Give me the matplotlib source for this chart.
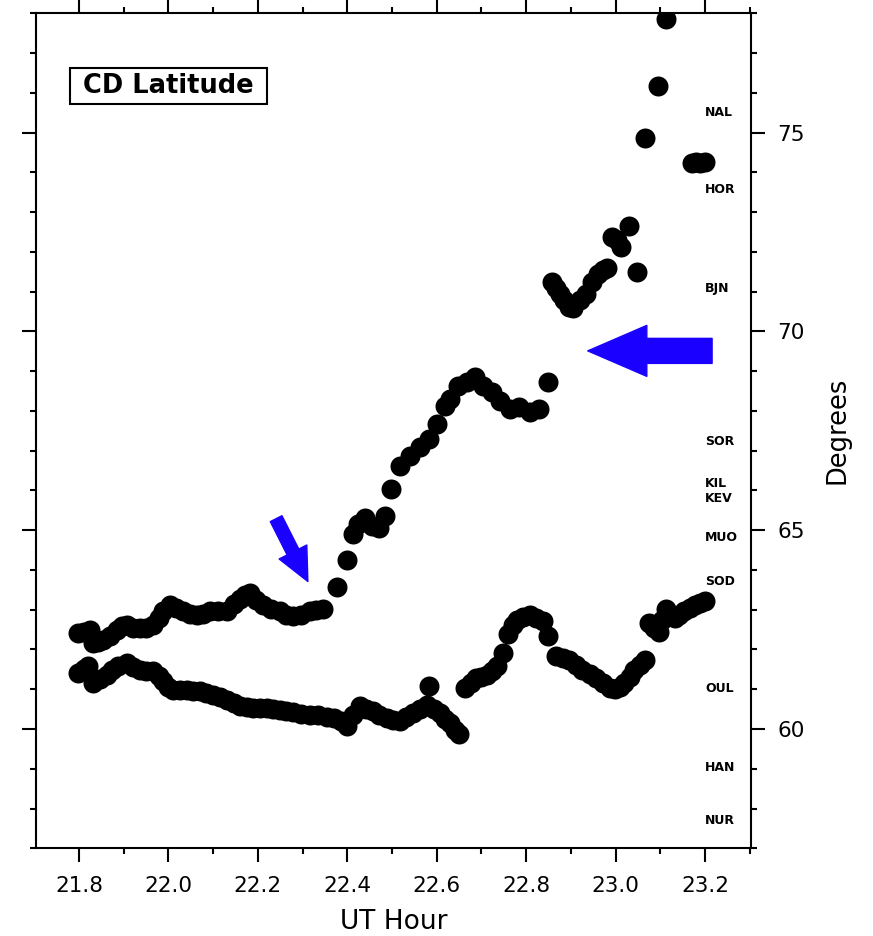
import matplotlib
matplotlib.use('Agg')
import matplotlib.pyplot as plt
from matplotlib.patches import Rectangle
from matplotlib.ticker import MultipleLocator, FormatStrFormatter

# boundary traces (UT hour, CGM latitude in degrees)
upper_t = [21.798, 21.812, 21.825, 21.831, 21.843, 21.854, 21.870, 21.885, 21.897, 21.907,
           21.922, 21.936, 21.950, 21.965, 21.978, 21.988, 22.003, 22.018, 22.032, 22.048,
           22.064, 22.078, 22.093, 22.112, 22.131, 22.146, 22.160, 22.172, 22.182, 22.196,
           22.211, 22.230, 22.249, 22.264, 22.278, 22.296, 22.316, 22.330, 22.345, 22.377,
           22.399, 22.412, 22.425, 22.439, 22.455, 22.470, 22.484, 22.499, 22.517, 22.540,
           22.562, 22.584, 22.600, 22.618, 22.629, 22.647, 22.667, 22.685, 22.703, 22.723,
           22.741, 22.763, 22.785, 22.808, 22.830, 22.848, 22.859, 22.868, 22.875, 22.885,
           22.895, 22.904, 22.920, 22.935, 22.948, 22.960, 22.972, 22.980, 22.993, 23.003,
           23.013, 23.031, 23.047, 23.065, 23.096, 23.112, 23.170, 23.180, 23.188, 23.200]
upper_lat = [62.41, 62.45, 62.50, 62.16, 62.18, 62.23, 62.35, 62.48, 62.58, 62.61,
             62.55, 62.53, 62.55, 62.61, 62.80, 62.98, 63.11, 63.05, 62.98, 62.90,
             62.86, 62.90, 62.96, 62.97, 62.98, 63.15, 63.28, 63.38, 63.41, 63.25,
             63.11, 63.02, 62.96, 62.88, 62.83, 62.88, 62.96, 63.00, 63.03, 63.58,
             64.24, 64.90, 65.15, 65.30, 65.10, 65.05, 65.35, 66.04, 66.62, 66.87,
             67.09, 67.29, 67.67, 68.12, 68.30, 68.62, 68.72, 68.85, 68.62, 68.47,
             68.25, 68.05, 68.10, 67.97, 68.05, 68.72, 71.23, 71.10, 70.95, 70.80,
             70.62, 70.60, 70.78, 70.95, 71.25, 71.45, 71.55, 71.60, 72.38, 72.30,
             72.13, 72.66, 71.50, 74.86, 76.17, 77.86, 74.24, 74.26, 74.24, 74.26]

lower_t = [21.798, 21.812, 21.820, 21.831, 21.847, 21.863, 21.875, 21.887, 21.907, 21.922,
           21.936, 21.950, 21.965, 21.978, 21.988, 22.000, 22.010, 22.025, 22.041, 22.055,
           22.070, 22.085, 22.099, 22.115, 22.131, 22.146, 22.160, 22.175, 22.189, 22.204,
           22.220, 22.235, 22.249, 22.264, 22.278, 22.296, 22.316, 22.335, 22.354, 22.370,
           22.385, 22.399, 22.414, 22.428, 22.442, 22.457, 22.472, 22.488, 22.503, 22.517,
           22.532, 22.546, 22.562, 22.578, 22.584, 22.593, 22.607, 22.618, 22.629, 22.640,
           22.651, 22.663, 22.676, 22.689, 22.700, 22.712, 22.724, 22.736, 22.748, 22.759,
           22.770, 22.779, 22.793, 22.808, 22.822, 22.837, 22.848, 22.868, 22.883, 22.897,
           22.912, 22.926, 22.942, 22.957, 22.972, 22.987, 22.998, 23.010, 23.020, 23.032,
           23.042, 23.054, 23.065, 23.076, 23.087, 23.098, 23.105, 23.112, 23.122, 23.132,
           23.143, 23.154, 23.166, 23.177, 23.189, 23.200]
lower_lat = [61.40, 61.50, 61.58, 61.15, 61.25, 61.35, 61.48, 61.58, 61.65, 61.55,
             61.48, 61.47, 61.45, 61.33, 61.20, 61.05, 60.98, 60.98, 60.98, 60.96,
             60.95, 60.90, 60.85, 60.80, 60.73, 60.65, 60.58, 60.55, 60.53, 60.53,
             60.52, 60.50, 60.48, 60.46, 60.42, 60.38, 60.36, 60.35, 60.30, 60.28,
             60.20, 60.08, 60.35, 60.58, 60.50, 60.45, 60.35, 60.28, 60.22, 60.20,
             60.30, 60.40, 60.50, 60.60, 61.08, 60.50, 60.40, 60.25, 60.15, 59.98,
             59.88, 61.03, 61.15, 61.28, 61.32, 61.35, 61.45, 61.58, 61.90, 62.40,
             62.62, 62.73, 62.82, 62.86, 62.80, 62.71, 62.35, 61.83, 61.78, 61.73,
             61.60, 61.48, 61.38, 61.28, 61.15, 61.03, 61.00, 61.05, 61.15, 61.30,
             61.48, 61.60, 61.73, 62.66, 62.55, 62.45, 62.75, 63.03, 62.90, 62.78,
             62.88, 62.98, 63.05, 63.11, 63.18, 63.23]

# magnetometer stations and their latitudes
stations = ['NAL', 'HOR', 'BJN', 'SOR', 'KIL', 'KEV', 'MUO', 'SOD', 'OUL', 'HAN', 'NUR']
station_lat = [75.51, 73.58, 71.08, 67.22, 66.17, 65.79, 64.81, 63.71, 61.03, 59.02, 57.69]
station_x = 23.2

x_ticks = [21.8, 22.0, 22.2, 22.4, 22.6, 22.8, 23.0, 23.2]
y_ticks = [60, 65, 70, 75]

plt.rcParams['font.family'] = ['DejaVu Sans']

fig = plt.figure(figsize=(8.73, 9.36), dpi=100)
ax = fig.add_axes([36 / 873, 1 - 848.3 / 936, 715 / 873, 835 / 936])

ax.plot(upper_t, upper_lat, 'o', color='black', markersize=14.4, markeredgewidth=0)
ax.plot(lower_t, lower_lat, 'o', color='black', markersize=14.4, markeredgewidth=0)

for name, lat in zip(stations, station_lat):
    ax.text(station_x, lat, name, fontsize=9, fontweight='bold', ha='left', va='center')

ax.set_xlim(21.704, 23.303)
ax.set_ylim(57.0, 78.0)

ax.set_xticks(x_ticks)
ax.xaxis.set_major_formatter(FormatStrFormatter('%.1f'))
ax.xaxis.set_minor_locator(MultipleLocator(0.1))
ax.set_yticks(y_ticks)
ax.yaxis.set_minor_locator(MultipleLocator(1))

ax.tick_params(which='both', direction='out', top=True, bottom=True, left=True, right=True,
               labelleft=False, labelright=True, labeltop=False, width=1.5, labelsize=15.5)
ax.tick_params(which='major', length=10)
ax.tick_params(which='minor', length=4.5)
ax.tick_params(axis='x', pad=10)
ax.tick_params(axis='y', pad=9)
for s in ax.spines.values():
    s.set_linewidth(1.5)

ax.set_xlabel('UT Hour', fontsize=19, labelpad=9)
ax.yaxis.set_label_position('right')
ax.set_ylabel('Degrees', fontsize=18.5, labelpad=14)

# title box
ax.add_patch(Rectangle((0.0476, 0.891), 0.2755, 0.044, transform=ax.transAxes,
                       fill=False, edgecolor='black', linewidth=1.5))
ax.text(0.1845, 0.913, 'CD Latitude', transform=ax.transAxes, fontsize=18.5,
        fontweight='bold', ha='center', va='center')

# arrows
ax.annotate('', xy=(22.938, 69.51), xytext=(23.216, 69.51),
            arrowprops=dict(arrowstyle='simple,head_length=0.425,head_width=0.367,tail_width=0.18',
                            mutation_scale=100, color='#1a00ff', shrinkA=0, shrinkB=0))
ax.annotate('', xy=(22.312, 63.71), xytext=(22.241, 65.29),
            arrowprops=dict(arrowstyle='simple,head_length=0.238,head_width=0.223,tail_width=0.094',
                            mutation_scale=100, color='#1a00ff', shrinkA=0, shrinkB=0))

fig.savefig('out.png', dpi=100)
